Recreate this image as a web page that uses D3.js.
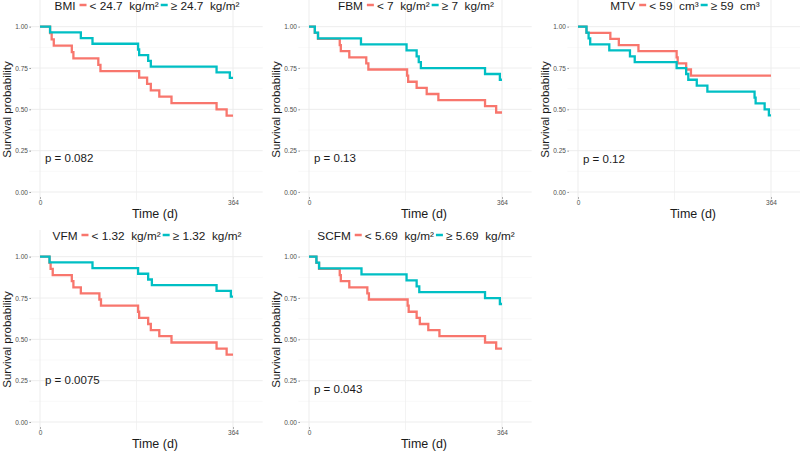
<!DOCTYPE html>
<html>
<head>
<meta charset="utf-8">
<script src="https://cdn.jsdelivr.net/npm/d3@7"></script>
<style>
  body { margin: 0; background: #fff; }
  svg { display: block; font-family: "Liberation Sans", Arial, sans-serif; }
</style>
</head>
<body>
<svg width="800" height="451"></svg>
<script>
// panel names, group labels and p values
var panelNames = ['BMI', 'FBM', 'MTV', 'VFM', 'SCFM'];
var lowLabels = ['< 24.7  kg/m²', '< 7  kg/m²', '< 59  cm³', '< 1.32  kg/m²', '< 5.69  kg/m²'];
var highLabels = ['≥ 24.7  kg/m²', '≥ 7  kg/m²', '≥ 59  cm³', '≥ 1.32  kg/m²', '≥ 5.69  kg/m²'];
var pTexts = ['p = 0.082', 'p = 0.13', 'p = 0.12', 'p = 0.0075', 'p = 0.043'];
var pLevels = [0.205, 0.205, 0.2, 0.253, 0.2];

// survival steps: [day, probability]
var bmiLow = [[0,1],[19,0.962],[22,0.923],[26,0.885],[60,0.846],[63,0.808],[110,0.769],[114,0.731],
  [187,0.692],[202,0.654],[209,0.615],[225,0.577],[248,0.538],[333,0.5],[352,0.462]];
var bmiHigh = [[0,1],[19,0.966],[77,0.931],[99,0.897],[185,0.862],[187,0.828],[204,0.793],[209,0.759],
  [333,0.724],[358,0.69]];
var fbmLow = [[0,1],[11,0.963],[17,0.926],[58,0.889],[60,0.852],[76,0.815],[108,0.778],[112,0.741],
  [185,0.704],[187,0.667],[203,0.63],[222,0.593],[244,0.556],[332,0.519],[353,0.481]];
var fbmHigh = [[0,1],[11,0.964],[17,0.929],[98,0.893],[184,0.857],[203,0.821],[207,0.786],[211,0.75],
  [332,0.714],[360,0.679]];
var mtvLow = [[0,1],[16,0.963],[61,0.926],[77,0.889],[114,0.852],[186,0.815],[188,0.778],[204,0.741],
  [213,0.704]];
var mtvHigh = [[0,1],[16,0.964],[20,0.929],[23,0.893],[59,0.857],[98,0.821],[107,0.786],[186,0.75],
  [204,0.714],[208,0.679],[224,0.643],[244,0.607],[333,0.571],[335,0.536],[352,0.5],[360,0.464]];
var vfmLow = [[0,1],[18,0.963],[20,0.926],[24,0.889],[60,0.852],[63,0.815],[77,0.778],[112,0.741],
  [115,0.704],[185,0.667],[187,0.63],[204,0.593],[209,0.556],[225,0.519],[248,0.481],[333,0.444],[352,0.407]];
var vfmHigh = [[0,1],[18,0.966],[99,0.931],[185,0.897],[204,0.862],[211,0.828],[333,0.793],[360,0.759]];
var scfmLow = [[0,1],[14,0.963],[19,0.926],[58,0.889],[60,0.852],[76,0.815],[110,0.778],[113,0.741],
  [186,0.704],[188,0.667],[203,0.63],[209,0.593],[225,0.556],[246,0.519],[332,0.481],[353,0.444]];
var scfmHigh = [[0,1],[14,0.964],[19,0.929],[99,0.893],[184,0.857],[203,0.821],[208,0.786],[332,0.75],
  [360,0.714]];

var lowSeries = [bmiLow, fbmLow, mtvLow, vfmLow, scfmLow];
var highSeries = [bmiHigh, fbmHigh, mtvHigh, vfmHigh, scfmHigh];

var yTicks = [0, 0.25, 0.5, 0.75, 1];
var yMinor = [0.125, 0.375, 0.625, 0.875];
var xTicks = [0, 364];
var xMinor = [182];
var endDay = 364;

/**************************************************************************/
var red = '#F8766D', teal = '#00BFC4';
var colX = [0, 269, 538], rowY = [0, 230];
var svg = d3.select('svg');

var x = d3.scaleLinear().domain([0, 364]).range([40, 233]);
var y = d3.scaleLinear().domain([0, 1]).range([192, 26.7]);
var left = x(-20), right = x(420), top = y(1.05), bottom = y(-0.05);

var line = d3.line()
    .curve(d3.curveStepAfter)
    .x(function(d) { return x(d[0]); })
    .y(function(d) { return y(d[1]); });

panelNames.forEach(function(name, i) {
    var g = svg.append('g')
        .attr('transform', 'translate(' + [colX[i % 3], rowY[Math.floor(i / 3)]] + ')');

    // grid
    g.selectAll('line.hminor').data(yMinor).enter().append('line')
        .attr('x1', left).attr('x2', right)
        .attr('y1', y).attr('y2', y)
        .attr('stroke', '#F2F2F2').attr('stroke-width', 0.5);
    g.selectAll('line.hmajor').data(yTicks).enter().append('line')
        .attr('x1', left).attr('x2', right)
        .attr('y1', y).attr('y2', y)
        .attr('stroke', '#EBEBEB').attr('stroke-width', 0.9);
    g.selectAll('line.vminor').data(xMinor).enter().append('line')
        .attr('y1', top).attr('y2', bottom)
        .attr('x1', x).attr('x2', x)
        .attr('stroke', '#EEEEEE').attr('stroke-width', 0.7);
    g.selectAll('line.vmajor').data(xTicks).enter().append('line')
        .attr('y1', top).attr('y2', bottom)
        .attr('x1', x).attr('x2', x)
        .attr('stroke', '#EBEBEB').attr('stroke-width', 0.9);

    // axes
    var ya = g.append('g')
        .attr('transform', 'translate(' + (left + 1.5) + ',0)')
        .call(d3.axisLeft(y).tickValues(yTicks).tickFormat(d3.format('.2f')).tickSize(1.5).tickPadding(1.5));
    var xa = g.append('g')
        .attr('transform', 'translate(0,' + (bottom - 3) + ')')
        .call(d3.axisBottom(x).tickValues(xTicks).tickFormat(d3.format('d')).tickSize(1.5).tickPadding(1.5));
    [ya, xa].forEach(function(a) {
        a.select('.domain').remove();
        a.selectAll('line').attr('stroke', '#555').attr('stroke-width', 0.6);
        a.selectAll('text').attr('fill', '#4D4D4D').style('font-size', '6.5px').style('font-family', 'inherit');
    });

    // curves
    [[lowSeries[i], red], [highSeries[i], teal]].forEach(function(s) {
        var pts = s[0].concat([[endDay, s[0][s[0].length - 1][1]]]);
        g.append('path')
            .attr('d', line(pts))
            .attr('fill', 'none')
            .attr('stroke', s[1])
            .attr('stroke-width', 2.3)
            .attr('stroke-linejoin', 'miter');
    });

    // p value
    g.append('text')
        .attr('x', 45).attr('y', y(pLevels[i]) + 4.2)
        .style('font-size', '11.5px').attr('fill', '#1a1a1a')
        .text(pTexts[i]);

    // axis titles
    g.append('text')
        .attr('x', 155).attr('y', 218)
        .attr('text-anchor', 'middle')
        .style('font-size', '12.5px').attr('fill', '#1a1a1a')
        .text('Time (d)');
    g.append('text')
        .attr('transform', 'translate(11,109.5)rotate(-90)')
        .attr('text-anchor', 'middle')
        .style('font-size', '11.5px').attr('fill', '#1a1a1a')
        .text('Survival probability');

    // legend as title
    var lg = g.append('g');
    var cx = 0;
    function addText(t) {
        var el = lg.append('text').attr('x', cx).attr('y', 9.5)
            .style('font-size', '11.8px').style('white-space', 'pre').attr('fill', '#1a1a1a')
            .text(t);
        cx += el.node().getComputedTextLength();
    }
    function addKey(c) {
        lg.append('line').attr('x1', cx).attr('x2', cx + 7)
            .attr('y1', 5).attr('y2', 5)
            .attr('stroke', c).attr('stroke-width', 2.5);
        cx += 7;
    }
    addText(name); cx += 4;
    addKey(red); cx += 3;
    addText(lowLabels[i]); cx += 2;
    addKey(teal); cx += 3;
    addText(highLabels[i]);
    lg.attr('transform', 'translate(' + (147 - cx / 2) + ',0)');
});
</script>
</body>
</html>
